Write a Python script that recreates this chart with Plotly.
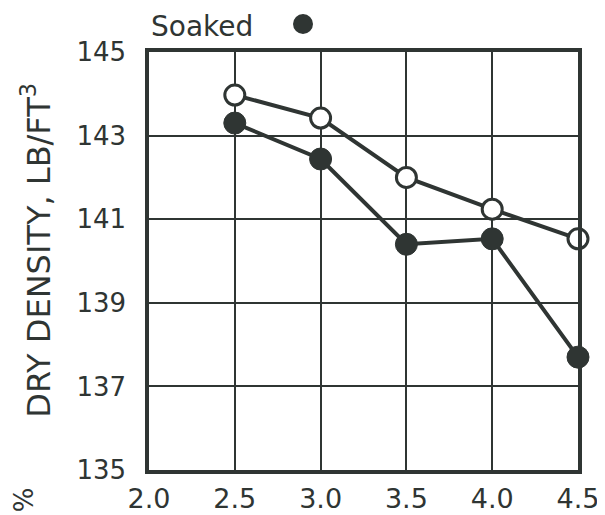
import plotly.graph_objects as go

x_vals = [2.5, 3.0, 3.5, 4.0, 4.5]
unsoaked = [143.97, 143.42, 142.0, 141.24, 140.53]
soaked = [143.3, 142.44, 140.4, 140.53, 137.7]
x_ticks = [2.0, 2.5, 3.0, 3.5, 4.0, 4.5]
x_tick_text = ["2.0", "2.5", "3.0", "3.5", "4.0", "4.5"]
y_ticks = [135, 137, 139, 141, 143, 145]
y_tick_text = ["135", "137", "139", "141", "143", "145"]

INK = "#2f3533"
FONT = "DejaVu Sans"

fig = go.Figure()
fig.add_trace(go.Scatter(
    x=x_vals, y=unsoaked, mode="lines+markers", name="Unsoaked",
    line=dict(color=INK, width=4),
    marker=dict(size=20, color="white", line=dict(color=INK, width=3)),
    cliponaxis=False, showlegend=False))
fig.add_trace(go.Scatter(
    x=x_vals, y=soaked, mode="lines+markers", name="Soaked",
    line=dict(color=INK, width=4),
    marker=dict(size=22, color=INK, line=dict(color=INK, width=1)),
    cliponaxis=False, showlegend=False))

# page body has an 8px margin, so the figure is shrunk/offset to compensate
fig.update_layout(
    width=597, height=507,
    margin=dict(l=141, r=27, t=44, b=45),
    paper_bgcolor="white", plot_bgcolor="white",
    font=dict(family=FONT, color=INK, size=25),
    xaxis=dict(range=[2.0, 4.5], tickvals=x_ticks, ticktext=x_tick_text,
               showgrid=True, gridcolor=INK, gridwidth=2,
               showline=True, linecolor=INK, linewidth=3.5, mirror=True,
               ticks="", zeroline=False, tickfont=dict(size=27),
               ticklabelstandoff=2, automargin=False),
    yaxis=dict(range=[135, 145], tickvals=y_ticks, ticktext=y_tick_text,
               showgrid=True, gridcolor=INK, gridwidth=2,
               showline=True, linecolor=INK, linewidth=3.5, mirror=True,
               ticks="", zeroline=False, tickfont=dict(size=26),
               ticklabelstandoff=14, automargin=False),
    annotations=[
        dict(text="DRY DENSITY, LB/FT<sup>3</sup>", xref="paper", yref="paper",
             x=-0.262, y=0.526, textangle=-90, showarrow=False,
             font=dict(size=32, family=FONT, color=INK), xanchor="center", yanchor="middle"),
        dict(text="Soaked", xref="paper", yref="paper", x=0.0, y=1.062,
             xanchor="left", yanchor="middle", showarrow=False,
             font=dict(size=28, family=FONT, color=INK)),
        dict(text="%", xref="paper", yref="paper", x=-0.291, y=-0.072,
             textangle=-90, showarrow=False, xanchor="center", yanchor="middle",
             font=dict(size=26, family=FONT, color=INK)),
    ],
)
fig.add_shape(type="circle", xref="paper", yref="paper",
              x0=0.359 - 0.0233, x1=0.359 + 0.0233, y0=1.067 - 0.0239, y1=1.067 + 0.0239,
              fillcolor=INK, line=dict(color=INK, width=0))

fig.write_html("out.html")
